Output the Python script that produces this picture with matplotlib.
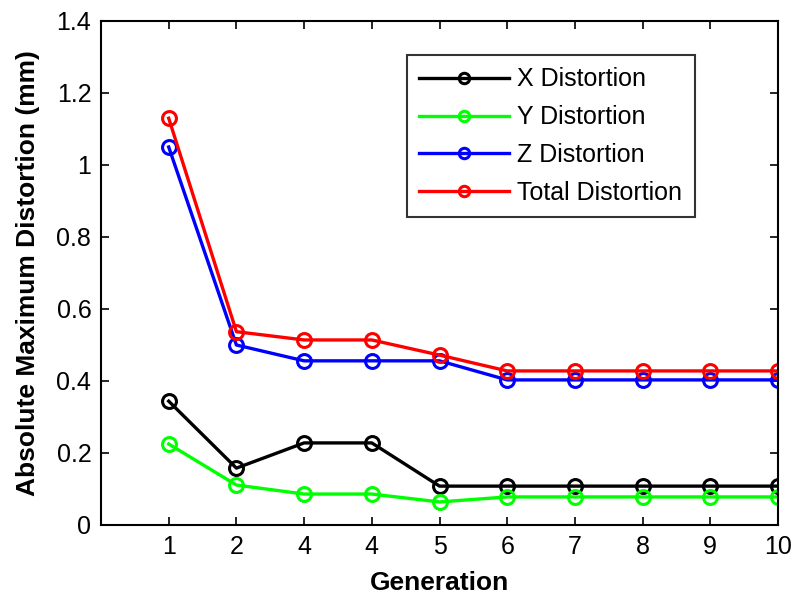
import matplotlib
matplotlib.use("Agg")
import matplotlib.pyplot as plt

plt.rcParams['font.family'] = ['Liberation Sans', 'DejaVu Sans']

# Tick labels along the x axis (generation index as recorded)
generation_labels = ['1', '2', '4', '4', '5', '6', '7', '8', '9', '10']
positions = list(range(1, 11))

x_distortion = [0.344, 0.158, 0.228, 0.228, 0.108, 0.108, 0.108, 0.108, 0.108, 0.108]
y_distortion = [0.225, 0.111, 0.086, 0.086, 0.064, 0.078, 0.078, 0.078, 0.078, 0.078]
z_distortion = [1.050, 0.500, 0.456, 0.456, 0.456, 0.403, 0.403, 0.403, 0.403, 0.403]
total_distortion = [1.130, 0.537, 0.514, 0.514, 0.472, 0.428, 0.428, 0.428, 0.428, 0.428]

series = [
    ('X Distortion', x_distortion, '#000000'),
    ('Y Distortion', y_distortion, '#00ff00'),
    ('Z Distortion', z_distortion, '#0000ff'),
    ('Total Distortion', total_distortion, '#ff0000'),
]

fig = plt.figure(figsize=(7.92, 5.94), dpi=100)
ax = fig.add_axes([101 / 792, 69 / 594, 677 / 792, 504 / 594])

for name, vals, col in series:
    ax.plot(positions, vals, color=col, lw=2.4, marker='o', ms=10,
            mfc='none', mec=col, mew=2.2, label=name)

ax.set_xlim(0, 10)
ax.set_ylim(0, 1.4)
ax.set_xticks(positions)
ax.set_xticklabels(generation_labels)
yt = [0, 0.2, 0.4, 0.6, 0.8, 1.0, 1.2, 1.4]
ax.set_yticks(yt)
ax.set_yticklabels(['0', '0.2', '0.4', '0.6', '0.8', '1', '1.2', '1.4'])

ax.tick_params(direction='in', length=6, width=1.2, top=True, right=True,
               labelsize=18, pad=7)
for s in ax.spines.values():
    s.set_linewidth(1.5)

ax.set_xlabel('Generation', fontsize=19, fontweight='bold', labelpad=9)
ax.set_ylabel('Absolute Maximum Distortion (mm)', fontsize=19,
              fontweight='bold', labelpad=12)

leg = ax.legend(loc='upper left', bbox_to_anchor=(407 / 792, 1 - 55 / 594),
                bbox_transform=fig.transFigure, fontsize=18, frameon=True,
                fancybox=False, edgecolor='black', handlelength=3.6,
                handletextpad=0.3, borderpad=0.5, labelspacing=0.55,
                borderaxespad=0, markerscale=0.75)
leg.get_frame().set_linewidth(1.5)

fig.savefig('out.png', dpi=100)
